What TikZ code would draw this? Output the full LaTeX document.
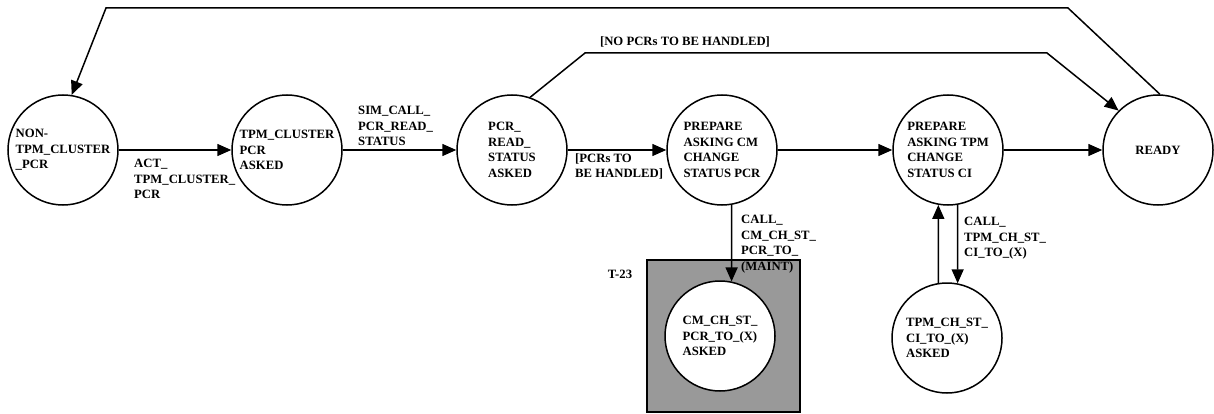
\documentclass[tikz,border=0pt]{standalone}
\usepackage{fontspec}
\setmainfont{Liberation Serif}
\usetikzlibrary{arrows.meta, positioning}

\begin{document}
\begin{tikzpicture}[
  x=1pt, y=-1pt,
  state/.style={circle, draw, line width=1.5pt, fill=white, minimum size=110pt, inner sep=0pt, align=left, font=\fontsize{12.7}{15.5}\selectfont\bfseries},
  lbl/.style={align=left, inner sep=0pt, font=\fontsize{12.7}{15.5}\selectfont\bfseries},
  tbox/.style={draw, line width=1.5pt, fill=gray!80, minimum width=153pt, minimum height=152pt, inner sep=0pt},
  arr/.style={-{Triangle[length=14pt, width=12pt]}, line width=1.5pt}
]
\useasboundingbox (0,0) rectangle (1214,414);

% grey region behind the maintenance state
\node[tbox] (t23box) at (723.5,336) {};
\node[lbl] (t23) at (620,274) {T-23};

\node[state] (nontpm) at (63,150) {NON-\\TPM\_CLUSTER\\\_PCR};
\node[state] (tpmcl) at (287,150) {TPM\_CLUSTER\\PCR\\ASKED};
\node[state] (pcrread) at (512,150) {PCR\_\\READ\_\\STATUS\\ASKED};
\node[state] (prepcm) at (722,150) {PREPARE\\ASKING CM\\CHANGE\\STATUS PCR};
\node[state] (preptpm) at (948,150) {PREPARE\\ASKING TPM\\CHANGE\\STATUS CI};
\node[state] (ready) at (1158,150) {READY};
\node[state] (cmch) at (720,336) {CM\_CH\_ST\_\\PCR\_TO\_(X)\\ASKED};
\node[state] (tpmch) at (947,338) {TPM\_CH\_ST\_\\CI\_TO\_(X)\\ASKED};

\coordinate (loopR) at (1068,8);
\coordinate (loopL) at (106,8);
\coordinate (skipL) at (585,53);
\coordinate (skipR) at (1047,53);

\draw[arr] (nontpm.east) -- (tpmcl.west);
\draw[arr] (tpmcl.east) -- (pcrread.west);
\draw[arr] (pcrread.east) -- (prepcm.west);
\draw[arr] (prepcm.east) -- (preptpm.west);
\draw[arr] (preptpm.east) -- (ready.west);
\draw[arr] (pcrread.71) -- (skipL) -- (skipR) -- (ready.135);
\draw[arr] (ready.88) -- (loopR) -- (loopL) -- (nontpm.81);
\draw[arr] (prepcm.-80) -- (cmch.78);
\draw[arr] (preptpm.-80) -- (tpmch.79);
\draw[arr] (tpmch.99) -- (preptpm.260);

\node[lbl, anchor=north west] (actlbl) at (134,159) {ACT\_\\TPM\_CLUSTER\_\\PCR};
\node[lbl, anchor=south west] (simlbl) at (358,146) {SIM\_CALL\_\\PCR\_READ\_\\STATUS};
\node[lbl, anchor=north west] (todolbl) at (575,153) {[PCRs TO\\BE HANDLED]};
\node[lbl] (nonelbl) at (685,42) {[NO PCRs TO BE HANDLED]};
\node[lbl, anchor=north west] (cmlbl) at (741,215) {CALL\_\\CM\_CH\_ST\_\\PCR\_TO\_\\(MAINT)};
\node[lbl, anchor=north west] (tpmlbl) at (964,217) {CALL\_\\TPM\_CH\_ST\_\\CI\_TO\_(X)};
\end{tikzpicture}
\end{document}
